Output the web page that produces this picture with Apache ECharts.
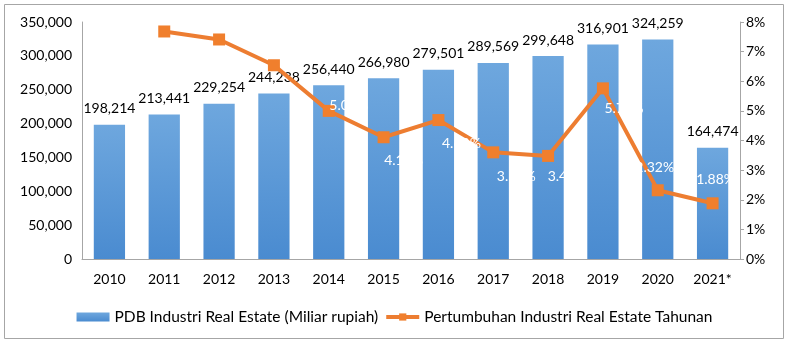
<!DOCTYPE html>
<html>
<head>
<meta charset="utf-8">
<script src="https://cdn.jsdelivr.net/npm/echarts@6/dist/echarts.min.js"></script>
<style>
html,body{margin:0;padding:0;background:#fff;}
#main{width:789px;height:351px;}
</style>
</head>
<body>
<div id="main"></div>
<script>
// data
var years = ['2010','2011','2012','2013','2014','2015','2016','2017','2018','2019','2020','2021*'];
var pdb = [198214,213441,229254,244238,256440,266980,279501,289569,299648,316901,324259,164474];
var growth = [null,7.68,7.41,6.54,5.00,4.11,4.69,3.60,3.48,5.76,2.32,1.88];
var leftTicks = [0,50000,100000,150000,200000,250000,300000,350000];

// where each growth label sits relative to its point (white text, first ones fall on white)
var growthLabelOffset = [[0,0],[20,23],[20,23],[20,23],[20,-5],[20,23],[23,23],[23,24],[19,21],[21,20],[-3,-23],[3,-24]];
var growthLabelShown = [false,false,false,false,true,true,true,true,true,true,true,true];

var FONT = 'Lato';
var dom = document.getElementById('main');
var myChart = echarts.init(dom);

var growthData = growth.map(function (v, i) {
	return {
		value: v,
		label: {show: growthLabelShown[i], offset: growthLabelOffset[i]}
	};
});

var option = {
	backgroundColor: '#fff',
	animation: false,
	textStyle: {fontFamily: FONT},
	graphic: [{
		type: 'rect',
		shape: {x: 4.5, y: 4.5, width: 779, height: 334},
		style: {fill: 'none', stroke: '#a6a6a6', lineWidth: 1},
		silent: true
	}],
	grid: {left: 82, right: 49, top: 22, bottom: 92},
	legend: {
		bottom: 21,
		left: 'center',
		itemGap: 6,
		itemWidth: 33,
		itemHeight: 9,
		textStyle: {fontFamily: FONT, fontSize: 15.5, color: '#000'},
		data: [
			{name: 'PDB Industri Real Estate (Miliar rupiah)', icon: 'rect'},
			{name: 'Pertumbuhan Industri Real Estate Tahunan', lineStyle: {width: 4}, itemHeight: 11}
		]
	},
	xAxis: {
		type: 'category',
		data: years,
		axisLine: {lineStyle: {color: '#a6a6a6'}},
		axisTick: {show: false},
		axisLabel: {color: '#000', fontSize: 14, margin: 13, fontFamily: FONT}
	},
	yAxis: [{
		type: 'value',
		min: 0,
		max: leftTicks[leftTicks.length - 1],
		interval: leftTicks[1] - leftTicks[0],
		splitLine: {show: false},
		axisLine: {show: true, lineStyle: {color: '#a6a6a6'}},
		axisTick: {show: false},
		axisLabel: {
			color: '#000', fontSize: 14, margin: 10, fontFamily: FONT,
			formatter: function (v) { return v.toLocaleString('en-US'); }
		}
	}, {
		type: 'value',
		min: 0,
		max: 8,
		interval: 1,
		position: 'right',
		splitLine: {show: false},
		axisLine: {show: true, lineStyle: {color: '#a6a6a6'}},
		axisTick: {show: true, length: 4, lineStyle: {color: '#a6a6a6'}},
		axisLabel: {color: '#000', fontSize: 14, margin: 6, fontFamily: FONT, formatter: '{value}%'}
	}],
	series: [{
		name: 'PDB Industri Real Estate (Miliar rupiah)',
		type: 'bar',
		data: pdb,
		barWidth: '57%',
		itemStyle: {
			color: new echarts.graphic.LinearGradient(0, 0, 0, 1, [
				{offset: 0, color: '#6ea7de'},
				{offset: 1, color: '#4a8bd0'}
			])
		},
		label: {
			show: true,
			position: 'top',
			distance: 9,
			color: '#000',
			fontSize: 14,
			fontFamily: FONT,
			formatter: function (p) { return p.value.toLocaleString('en-US'); }
		}
	}, {
		name: 'Pertumbuhan Industri Real Estate Tahunan',
		type: 'line',
		yAxisIndex: 1,
		data: growthData,
		symbol: 'rect',
		symbolSize: 12,
		lineStyle: {color: '#ed7d31', width: 4},
		itemStyle: {color: '#f07f2d'},
		label: {
			position: 'inside',
			color: '#fff',
			fontSize: 14,
			fontFamily: FONT,
			formatter: function (p) { return p.value == null ? '' : p.value.toFixed(2) + '%'; }
		}
	}]
};

if (option && typeof option === "object") {
	myChart.setOption(option, true);
}
</script>
</body>
</html>
